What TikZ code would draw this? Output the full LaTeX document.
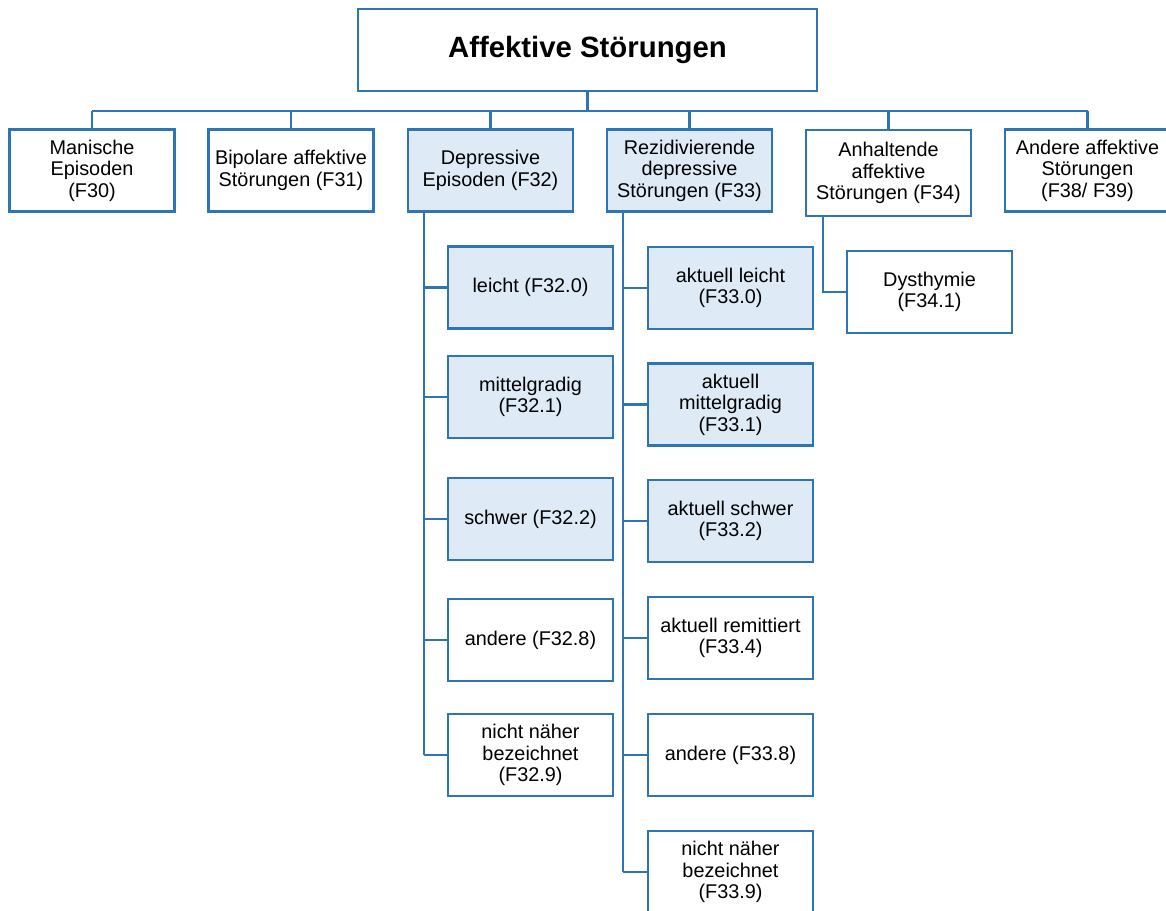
\documentclass[tikz,border=0pt]{standalone}
\usepackage{fontspec}
\setmainfont{Liberation Sans}
\definecolor{blaurand}{RGB}{46,117,182}
\definecolor{blaufuell}{RGB}{222,235,247}
\begin{document}
\begin{tikzpicture}[
    x=0.02cm, y=-0.02cm,
    font=\fontsize{11.3}{12.2}\selectfont,
    kasten/.style={rectangle,draw=blaurand,line width=1.6pt,fill=white,
                   minimum width=3.3cm,minimum height=1.64cm,
                   inner sep=2pt,align=center},
    kastenblau/.style={kasten,fill=blaufuell},
    linie/.style={draw=blaurand,line width=1.6pt}]

  \useasboundingbox (0,0) rectangle (1166,911);

  % ---- oberster Kasten ------------------------------------------------------
  \node[kasten,minimum width=9.18cm,font=\fontsize{16.7}{18}\selectfont\bfseries]
       (wurzel) at (587.5,50) {Affektive Störungen};

  % ---- erste Ebene ----------------------------------------------------------
  \node[kasten]     (f30) at (92,170.5)   {Manische\\Episoden\\(F30)};
  \node[kasten]     (f31) at (291,170.5)  {Bipolare affektive\\Störungen (F31)};
  \node[kastenblau] (f32) at (490.5,170.5) {Depressive\\Episoden (F32)};
  \node[kastenblau] (f33) at (689.5,170.5) {Rezidivierende\\depressive\\Störungen (F33)};
  \node[kasten,minimum height=1.72cm]
                    (f34) at (888.5,173)  {Anhaltende\\affektive\\Störungen (F34)};
  \node[kasten]     (f38) at (1087.5,170.5) {Andere affektive\\Störungen\\(F38/ F39)};

  % ---- Sammelschiene unter der Wurzel ---------------------------------------
  \coordinate (schiene) at (587.5,111);
  \draw[linie] (wurzel.south) -- (schiene);
  \draw[linie] (schiene -| f30.north) -- (schiene -| f38.north);
  \foreach \n in {f30,f31,f32,f33,f34,f38}
    \draw[linie] (schiene -| \n.north) -- (\n.north);

  % ---- Unterformen F32 ------------------------------------------------------
  \node[kastenblau] (f320) at (530.5,287.5) {leicht (F32.0)};
  \node[kastenblau] (f321) at (530.5,397)   {mittelgradig\\(F32.1)};
  \node[kastenblau] (f322) at (530.5,519)   {schwer (F32.2)};
  \node[kasten]     (f328) at (530.5,640)   {andere (F32.8)};
  \node[kasten]     (f329) at (530.5,755)   {nicht näher\\bezeichnet\\(F32.9)};

  \coordinate (spur32) at (424,211);
  \draw[linie] (spur32) -- (spur32 |- f329.west);
  \foreach \k in {0,1,2,8,9}
    \draw[linie] (spur32 |- f32\k.west) -- (f32\k.west);

  % ---- Unterformen F33 ------------------------------------------------------
  \node[kastenblau] (f330) at (730.5,288)   {aktuell leicht\\(F33.0)};
  \node[kastenblau] (f331) at (730.5,404.5) {aktuell\\mittelgradig\\(F33.1)};
  \node[kastenblau] (f332) at (730.5,521)   {aktuell schwer\\(F33.2)};
  \node[kasten]     (f334) at (730.5,638)   {aktuell remittiert\\(F33.4)};
  \node[kasten]     (f338) at (730.5,755)   {andere (F33.8)};
  \node[kasten]     (f339) at (730.5,872)   {nicht näher\\bezeichnet\\(F33.9)};

  \coordinate (spur33) at (623,211);
  \draw[linie] (spur33) -- (spur33 |- f339.west);
  \foreach \k in {0,1,2,4,8,9}
    \draw[linie] (spur33 |- f33\k.west) -- (f33\k.west);

  % ---- Unterform F34 --------------------------------------------------------
  \node[kasten] (f341) at (929.5,292) {Dysthymie\\(F34.1)};
  \coordinate (spur34) at (823,216);
  \draw[linie] (spur34) |- (f341.west);

\end{tikzpicture}
\end{document}
